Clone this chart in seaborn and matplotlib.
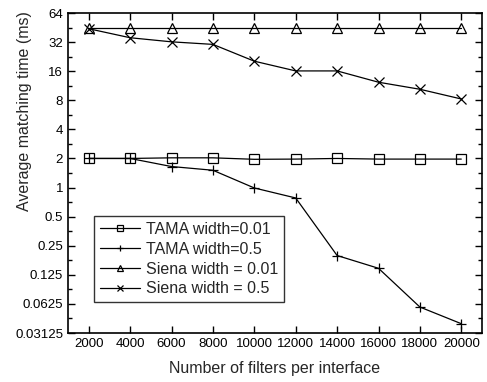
import matplotlib
matplotlib.use("Agg")
import matplotlib.pyplot as plt
import matplotlib.ticker as mticker
import numpy as np
import pandas as pd
import seaborn as sns

filters = [2000, 4000, 6000, 8000, 10000, 12000, 14000, 16000, 18000, 20000]
tama_001 = [2.0, 2.0, 2.03, 2.03, 1.96, 1.97, 2.0, 1.97, 1.97, 1.97]
tama_05 = [2.0, 2.0, 1.65, 1.51, 0.99, 0.78, 0.198, 0.146, 0.058, 0.039]
siena_001 = [45, 45, 45, 45, 45, 45, 45, 45, 45, 45]
siena_05 = [44, 35.5, 32.2, 30.3, 20.3, 16.1, 16.1, 12.3, 10.4, 8.25]

series_names = ["TAMA width=0.01", "TAMA width=0.5", "Siena width = 0.01", "Siena width = 0.5"]
series_values = [tama_001, tama_05, siena_001, siena_05]
series_markers = ["s", "+", "^", "x"]

ytick_vals = [0.03125, 0.0625, 0.125, 0.25, 0.5, 1, 2, 4, 8, 16, 32, 64]
ytick_labels = ["0.03125", "0.0625", "0.125", "0.25", "0.5", "1", "2", "4", "8", "16", "32", "64"]

sns.set_style("ticks")
plt.rcParams["font.family"] = ["Liberation Sans", "DejaVu Sans"]

fig = plt.figure(figsize=(4.87, 3.82), dpi=100)
# axes box placed to match the reference (pixels: left 68, right 482, top 13, bottom 333)
ax = fig.add_axes([68 / 487, 1 - 333 / 382, 414 / 487, 320 / 382])

for name, vals, mk in zip(series_names, series_values, series_markers):
    df = pd.DataFrame({"x": filters, "y": vals})
    sns.lineplot(data=df, x="x", y="y", ax=ax, color="black", linewidth=0.9,
                 marker=mk, markersize=7, markerfacecolor="none",
                 markeredgecolor="black", markeredgewidth=0.9, label=name)

ax.set_yscale("log", base=2)
ax.set_ylim(0.03125, 64)
ax.set_xlim(1000, 21000)
ax.yaxis.set_major_locator(mticker.FixedLocator(ytick_vals))
ax.yaxis.set_major_formatter(mticker.FixedFormatter(ytick_labels))
ax.yaxis.set_minor_locator(mticker.FixedLocator([v * np.sqrt(2) for v in ytick_vals[:-1]]))
ax.yaxis.set_minor_formatter(mticker.NullFormatter())
ax.set_xticks(filters)
ax.xaxis.set_minor_locator(mticker.NullLocator())

ax.tick_params(axis="both", which="both", direction="in", top=True, right=True,
               labelsize=9.5, colors="black")
ax.tick_params(which="major", length=5, width=1)
ax.tick_params(which="minor", length=3, width=1)
for s in ax.spines.values():
    s.set_linewidth(1.2)
    s.set_color("black")

ax.set_xlabel("Number of filters per interface", fontsize=11.5, labelpad=8)
ax.set_ylabel("Average matching time (ms)", fontsize=11.5, va="center")
ax.yaxis.set_label_coords(-0.106, 0.694)

leg = ax.legend(loc="lower left", bbox_to_anchor=(0.063, 0.097), borderaxespad=0,
                fontsize=11.5, frameon=True, fancybox=False, edgecolor="black",
                handlelength=2.5, borderpad=0.35, labelspacing=0.3, handletextpad=0.4,
                markerscale=0.7)
leg.get_frame().set_linewidth(1)

fig.savefig("out.png", dpi=100)
